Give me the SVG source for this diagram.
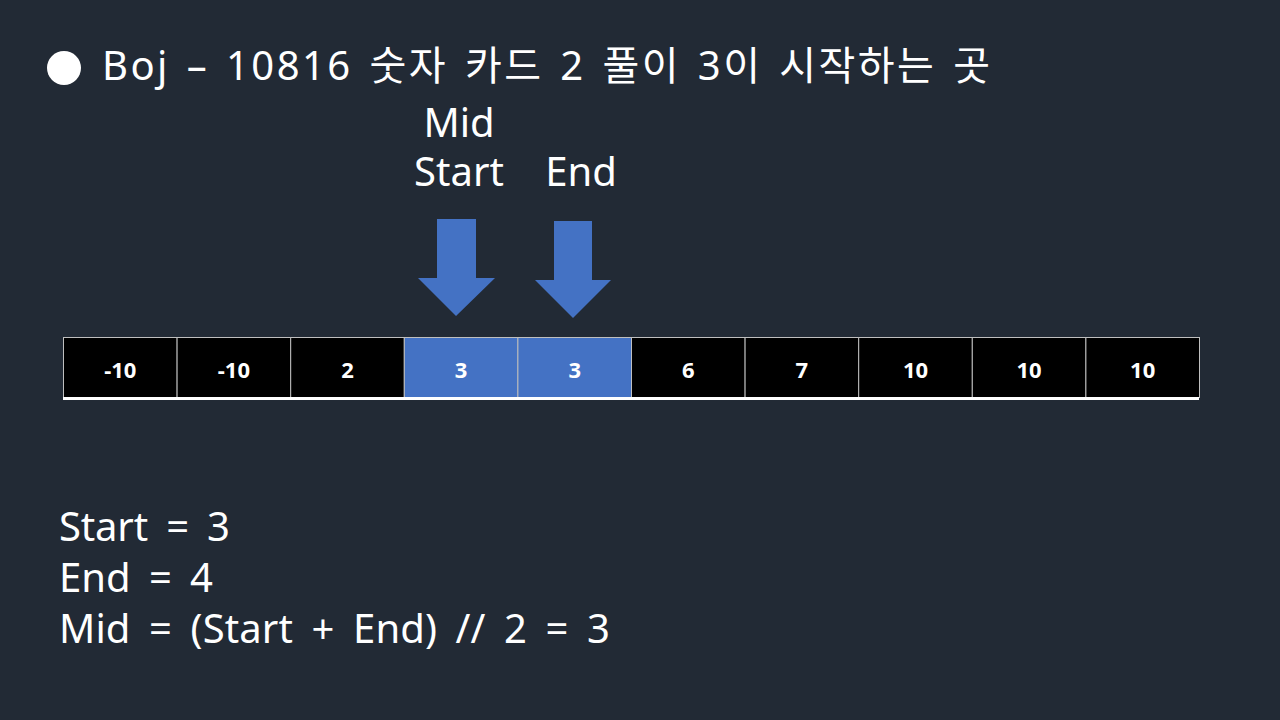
<svg xmlns="http://www.w3.org/2000/svg" width="1280" height="720" viewBox="0 0 1280 720">
<style>
text{font-family:"Noto Sans","Noto Sans CJK KR",sans-serif;fill:#ffffff}
.t{font-size:40px;word-spacing:4px}
.lbl{font-size:40px;text-anchor:middle}
.code{font-size:40px;word-spacing:8px}
.cell{stroke:#bfbfbf;stroke-width:1}
.blk{fill:#000000}
.blu{fill:#4472c4}
.num{font-size:22px;font-weight:bold;text-anchor:middle}
.arr{fill:#4472c4}
</style>
<rect width="1280" height="720" fill="#222a35"/>
<g id="title">
<circle cx="64" cy="68" r="17" fill="#ffffff"/>
<text class="t" x="102" y="80" textLength="888" lengthAdjust="spacing">Boj – 10816 숫자 카드 2 풀이 3이 시작하는 곳</text>
</g>
<g id="labels">
<text class="lbl" x="459" y="137">Mid</text>
<text class="lbl" x="459" y="186">Start</text>
<text class="lbl" x="581" y="186">End</text>
</g>
<g id="connectors">
<polygon class="arr" points="437,219 476,219 476,278 495,278 456,316 418,278 437,278"/>
<polygon class="arr" points="554,221 592,221 592,280 611,280 573,318 535,280 554,280"/>
</g>
<g id="array">
<rect class="cell blk" x="63.5" y="337.5" width="113.6" height="60"/>
<rect class="cell blk" x="177.1" y="337.5" width="113.6" height="60"/>
<rect class="cell blk" x="290.7" y="337.5" width="113.6" height="60"/>
<rect class="cell blu" x="404.3" y="337.5" width="113.6" height="60"/>
<rect class="cell blu" x="517.9" y="337.5" width="113.6" height="60"/>
<rect class="cell blk" x="631.5" y="337.5" width="113.6" height="60"/>
<rect class="cell blk" x="745.1" y="337.5" width="113.6" height="60"/>
<rect class="cell blk" x="858.7" y="337.5" width="113.6" height="60"/>
<rect class="cell blk" x="972.3" y="337.5" width="113.6" height="60"/>
<rect class="cell blk" x="1085.9" y="337.5" width="113.6" height="60"/>
<line x1="63" y1="398.5" x2="1199" y2="398.5" stroke="#ffffff" stroke-width="3"/>
<text class="num" x="120.3" y="378">-10</text>
<text class="num" x="233.9" y="378">-10</text>
<text class="num" x="347.5" y="378">2</text>
<text class="num" x="461.1" y="378">3</text>
<text class="num" x="574.7" y="378">3</text>
<text class="num" x="688.3" y="378">6</text>
<text class="num" x="801.9" y="378">7</text>
<text class="num" x="915.5" y="378">10</text>
<text class="num" x="1029.1" y="378">10</text>
<text class="num" x="1142.7" y="378">10</text>
</g>
<g id="code">
<text class="code" x="59" y="541" textLength="171" lengthAdjust="spacing">Start = 3</text>
<text class="code" x="59" y="592" textLength="154" lengthAdjust="spacing">End = 4</text>
<text class="code" x="59" y="643" textLength="551" lengthAdjust="spacing">Mid = (Start + End) // 2 = 3</text>
</g>
</svg>
